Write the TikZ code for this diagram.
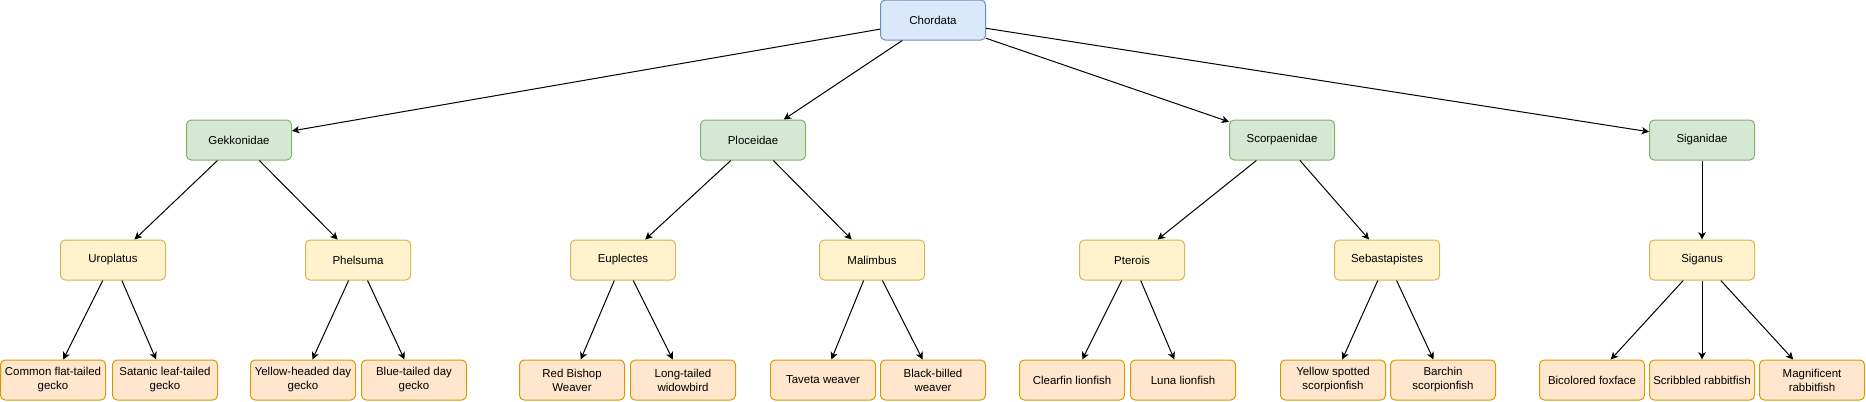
\documentclass[tikz,border=0pt]{standalone}
\usepackage{fontspec}
\setmainfont{Liberation Sans}
\usetikzlibrary{arrows.meta}
\tikzset{>={Stealth[length=5.5pt,width=5.5pt,inset=1.5pt]}}
\definecolor{rootfill}{HTML}{DAE8FC}
\definecolor{rootline}{HTML}{6C8EBF}
\definecolor{famfill}{HTML}{D5E8D4}
\definecolor{famline}{HTML}{82B366}
\definecolor{genfill}{HTML}{FFF2CC}
\definecolor{genline}{HTML}{D6B656}
\definecolor{spcfill}{HTML}{FFE6CC}
\definecolor{spcline}{HTML}{D79B00}
\tikzset{
  box/.style={draw, line width=0.75pt, rounded corners=3.5pt, minimum width=78.75pt, minimum height=30pt, inner xsep=0pt, inner ysep=1pt, align=center, font=\fontsize{8.6}{10.5}\selectfont},
  rootbox/.style={box, fill=rootfill, draw=rootline},
  fambox/.style={box, fill=famfill, draw=famline},
  genbox/.style={box, fill=genfill, draw=genline},
  spcbox/.style={box, fill=spcfill, draw=spcline},
  link/.style={->, line width=0.75pt}
}
\begin{document}
\begin{tikzpicture}[x=0.75pt,y=0.75pt,yscale=-1,xscale=1]
\useasboundingbox (0,0) rectangle (1866,401);

%Root
\node[rootbox] (chordata) at (933,20) {Chordata};
%Families
\node[fambox] (gekkonidae) at (239,140) {Gekkonidae};
\node[fambox] (ploceidae) at (753,140) {Ploceidae};
\node[fambox] (scorpaenidae) at (1282,140) {Scorpaenidae};
\node[fambox] (siganidae) at (1702,140) {Siganidae};
%Genera
\node[genbox] (uroplatus) at (113,260) {Uroplatus};
\node[genbox] (phelsuma) at (358,260) {Phelsuma};
\node[genbox] (euplectes) at (623,260) {Euplectes};
\node[genbox] (malimbus) at (872,260) {Malimbus};
\node[genbox] (pterois) at (1132,260) {Pterois};
\node[genbox] (sebastapistes) at (1387,260) {Sebastapistes};
\node[genbox] (siganus) at (1702,260) {Siganus};
%Species
\node[spcbox] (flattailed) at (53,380) {Common flat-tailed\\gecko};
\node[spcbox] (leaftailed) at (165,380) {Satanic leaf-tailed\\gecko};
\node[spcbox] (yellowday) at (303,380) {Yellow-headed day\\gecko};
\node[spcbox] (blueday) at (414,380) {Blue-tailed day\\gecko};
\node[spcbox] (redbishop) at (572,380) {Red Bishop\\Weaver};
\node[spcbox] (widowbird) at (683,380) {Long-tailed\\widowbird};
\node[spcbox] (taveta) at (823,380) {Taveta weaver};
\node[spcbox] (blackbilled) at (933,380) {Black-billed\\weaver};
\node[spcbox] (clearfin) at (1072,380) {Clearfin lionfish};
\node[spcbox] (luna) at (1183,380) {Luna lionfish};
\node[spcbox] (yellowspot) at (1333,380) {Yellow spotted\\scorpionfish};
\node[spcbox] (barchin) at (1443,380) {Barchin\\scorpionfish};
\node[spcbox] (foxface) at (1592,380) {Bicolored foxface};
\node[spcbox] (scribbled) at (1702,380) {Scribbled rabbitfish};
\node[spcbox] (magnificent) at (1812,380) {Magnificent\\rabbitfish};

%Root to families
\draw[link] (chordata) -- (gekkonidae);
\draw[link] (chordata) -- (ploceidae);
\draw[link] (chordata) -- (scorpaenidae);
\draw[link] (chordata) -- (siganidae);
%Families to genera
\draw[link] (gekkonidae) -- (uroplatus);
\draw[link] (gekkonidae) -- (phelsuma);
\draw[link] (ploceidae) -- (euplectes);
\draw[link] (ploceidae) -- (malimbus);
\draw[link] (scorpaenidae) -- (pterois);
\draw[link] (scorpaenidae) -- (sebastapistes);
\draw[link] (siganidae) -- (siganus);
%Genera to species
\draw[link] (uroplatus) -- (flattailed);
\draw[link] (uroplatus) -- (leaftailed);
\draw[link] (phelsuma) -- (yellowday);
\draw[link] (phelsuma) -- (blueday);
\draw[link] (euplectes) -- (redbishop);
\draw[link] (euplectes) -- (widowbird);
\draw[link] (malimbus) -- (taveta);
\draw[link] (malimbus) -- (blackbilled);
\draw[link] (pterois) -- (clearfin);
\draw[link] (pterois) -- (luna);
\draw[link] (sebastapistes) -- (yellowspot);
\draw[link] (sebastapistes) -- (barchin);
\draw[link] (siganus) -- (foxface);
\draw[link] (siganus) -- (scribbled);
\draw[link] (siganus) -- (magnificent);
\end{tikzpicture}
\end{document}
